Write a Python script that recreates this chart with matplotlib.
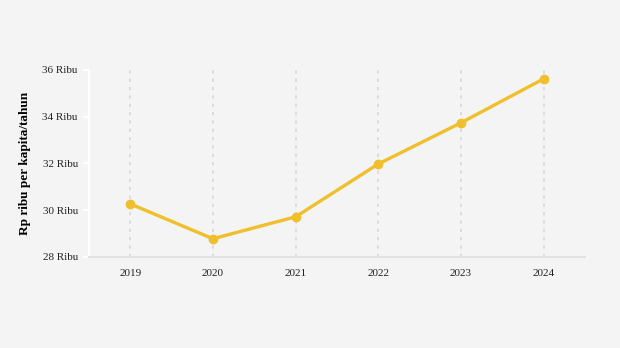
import matplotlib.pyplot as plt

# Data
tahun = [2019, 2020, 2021, 2022, 2023, 2024]
nilai = [30.27, 28.78, 29.72, 31.98, 33.74, 35.62]
y_ticks = [28, 30, 32, 34, 36]
y_labels = [f"{v} Ribu" for v in y_ticks]

plt.rcParams['font.family'] = ['Liberation Serif', 'DejaVu Serif']

bg = '#f4f4f4'
fig = plt.figure(figsize=(6.2, 3.48), dpi=100, facecolor=bg)
ax = fig.add_axes([0.1435, 0.2615, 0.80, 0.5375], facecolor=bg)

ax.plot(tahun, nilai, color='#f0bf2c', linewidth=2.4, marker='o',
        markersize=6, zorder=3)

ax.set_xlim(2018.5, 2024.5)
ax.set_ylim(28, 36)
ax.set_xticks(tahun)
ax.set_xticklabels([str(t) for t in tahun], fontsize=8)
ax.set_yticks(y_ticks)
ax.set_yticklabels(y_labels, fontsize=8)

ax.grid(axis='x', color='#d8d8d8', linestyle=(0, (2, 3)), linewidth=1.2)
ax.grid(axis='y', visible=False)

for side in ['top', 'right']:
    ax.spines[side].set_visible(False)
ax.spines['left'].set_color('white')
ax.spines['left'].set_linewidth(1.5)
ax.spines['bottom'].set_color('#e2e2e2')
ax.spines['bottom'].set_linewidth(1.5)

ax.tick_params(axis='y', colors='white', labelcolor='#222222', length=4,
               width=1.5, pad=4)
ax.tick_params(axis='x', length=0, labelcolor='#222222', pad=9)

ax.set_ylabel('Rp ribu per kapita/tahun', fontsize=9.5, fontweight='bold',
              labelpad=8)

fig.savefig('out.png', dpi=100, facecolor=bg)
